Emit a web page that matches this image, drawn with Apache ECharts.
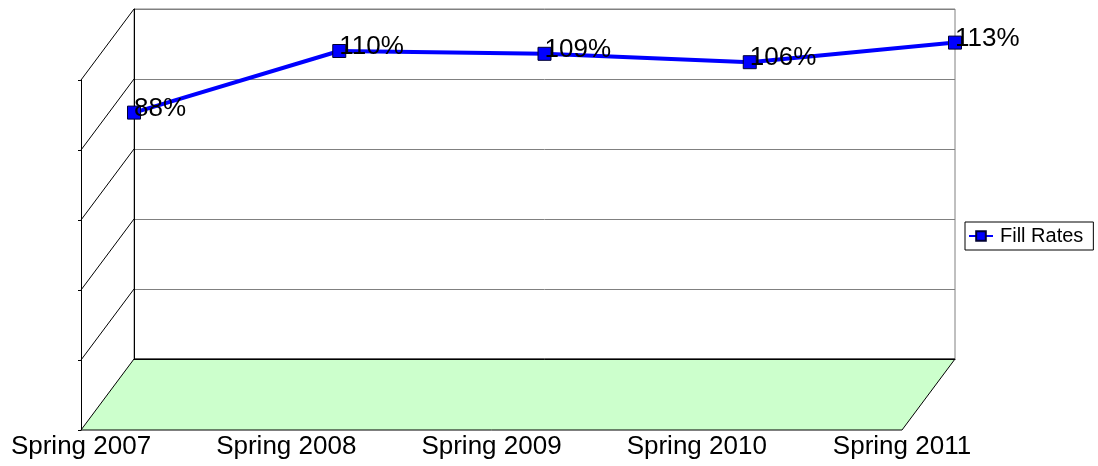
<!DOCTYPE html>
<html>
<head>
<meta charset="utf-8">
<script src="https://cdn.jsdelivr.net/npm/echarts@6/dist/echarts.min.js"></script>
<style>
html,body{margin:0;padding:0;background:#fff;}
#chart{width:1098px;height:466px;}
</style>
</head>
<body>
<div id="chart"></div>
<script>
var categories = ['Spring 2007','Spring 2008','Spring 2009','Spring 2010','Spring 2011'];
var fillRates = [88, 110, 109, 106, 113];
var seriesName = 'Fill Rates';

// back wall box and depth offset of the fake 3d
var L = 134, R = 955, T = 9, B = 359;
var DX = 53, DY = 71;
var W = 1098, H = 466;

function wallLines(){
	var out = [];
	var step = (B - T) / 5;
	for(var i = 0; i < 5; i++){
		var y = T + step * i;
		out.push({
			type: 'line',
			shape: {x1: L, y1: y, x2: L - DX, y2: y + DY},
			style: {stroke: '#000', lineWidth: 1},
			z: 1
		});
	}
	// floor
	out.push({
		type: 'polygon',
		shape: {points: [[L, B], [R, B], [R - DX, B + DY], [L - DX, B + DY]]},
		style: {fill: '#CCFFCC', stroke: '#000', lineWidth: 1},
		z: 0
	});
	return out;
}

var myChart = echarts.init(document.getElementById('chart'));
var option = {
	animation: false,
	textStyle: {fontFamily: 'Arial, "Liberation Sans", sans-serif'},
	legend: {
		data: [seriesName],
		left: 965,
		top: 222,
		padding: [4, 10, 4, 3],
		borderColor: '#000',
		borderWidth: 1,
		borderRadius: 0,
		itemWidth: 24,
		itemHeight: 12,
		itemGap: 4,
		textStyle: {fontSize: 20, color: '#000', padding: [0, 0, 0, 2]}
	},
	grid: [
		{left: L, right: W - R, top: T, bottom: H - B, show: true, borderColor: '#808080', borderWidth: 1},
		{left: L - DX, right: W - R + DX, top: T + DY, bottom: H - B - DY}
	],
	xAxis: [
		{
			gridIndex: 0, type: 'category', data: categories, boundaryGap: false,
			position: 'top',
			axisLine: {show: true, lineStyle: {color: '#000'}},
			axisTick: {show: false}, axisLabel: {show: false}, splitLine: {show: false}
		},
		{
			gridIndex: 1, type: 'category', data: categories, boundaryGap: false,
			axisLine: {show: false}, axisTick: {show: false}, splitLine: {show: false},
			axisLabel: {color: '#000', fontSize: 26, margin: 4, interval: 0}
		}
	],
	yAxis: [
		{
			gridIndex: 0, type: 'value', min: 0, max: 125, interval: 25,
			axisLine: {show: true, lineStyle: {color: '#000'}},
			axisTick: {show: false}, axisLabel: {show: false},
			splitLine: {show: true, lineStyle: {color: '#808080', width: 1}}
		},
		{
			gridIndex: 1, type: 'value', min: 0, max: 125, interval: 25,
			axisLine: {show: true, lineStyle: {color: '#000'}},
			axisTick: {show: true, length: 3, lineStyle: {color: '#000'}},
			axisLabel: {show: false}, splitLine: {show: false}
		}
	],
	graphic: wallLines(),
	series: [{
		name: seriesName,
		type: 'line',
		xAxisIndex: 0,
		yAxisIndex: 0,
		data: fillRates,
		symbol: 'rect',
		symbolSize: 13,
		color: '#0000FF',
		lineStyle: {color: '#0000FF', width: 4},
		itemStyle: {color: '#0000FF', borderColor: '#000033', borderWidth: 1},
		label: {
			show: true,
			position: 'right',
			distance: -7,
			offset: [0, -4],
			formatter: '{c}%',
			color: '#000',
			fontSize: 26
		},
		z: 5
	}]
};
myChart.setOption(option);
</script>
</body>
</html>
